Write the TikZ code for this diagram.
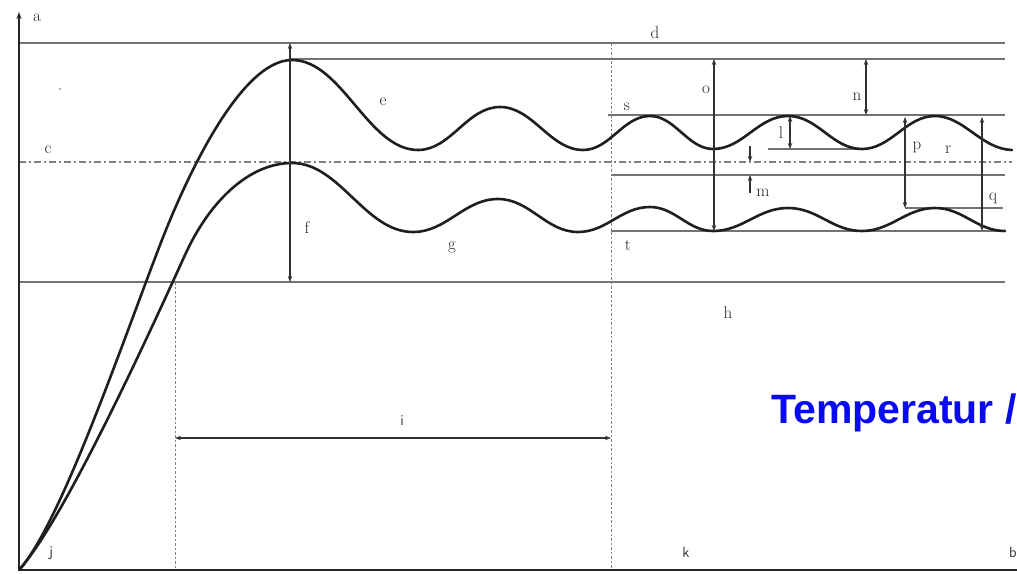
\documentclass[tikz,border=0pt]{standalone}
\usepackage{fontspec}
\newfontfamily\tempfont{Liberation Sans}
\usetikzlibrary{arrows.meta}
\begin{document}
\begin{tikzpicture}[x=1pt,y=-1pt,
  axisline/.style={line width=1.9pt,black!85},
  guide/.style={line width=1.4pt,black!55},
  dotline/.style={line width=1pt,black!50,dash pattern=on 2.5pt off 2pt},
  dashdotline/.style={line width=1.3pt,black!50,dash pattern=on 7pt off 3pt on 2pt off 3pt},
  curve/.style={line width=2.6pt,black!88,line cap=round},
  dimline/.style={line width=1.2pt,black!80,{Stealth[length=6pt,width=4.5pt]}-{Stealth[length=6pt,width=4.5pt]}},
  halfdim/.style={line width=1.2pt,black!80,-{Stealth[length=6pt,width=4.5pt]}},
  lbl/.style={font=\fontsize{17}{19}\selectfont,inner sep=0pt,text=black!85},
  slbl/.style={font=\sffamily\fontsize{15}{18}\selectfont,inner sep=0pt,text=black!80},
  ]
\useasboundingbox (0,0) rectangle (1017,573);
\fill[white] (0,0) rectangle (1017,573);

% coordinates
\coordinate (O) at (19,570);
\coordinate (Ytop) at (19,12);
\coordinate (Xend) at (1017,570);

% guide lines
\draw[guide] (19,43) coordinate (dL) -- (1005,43) coordinate (dR);
\draw[guide] (290,59) coordinate (pkL) -- (1005,59) coordinate (pkR);
\draw[guide] (608,115) coordinate (sL) -- (1005,115) coordinate (sR);
\draw[guide] (768,149) coordinate (lL) -- (862,149) coordinate (lR);
\draw[dashdotline] (19,162) coordinate (cL) -- (1012,162) coordinate (cR);
\draw[guide] (611,175) coordinate (mL) -- (1005,175) coordinate (mR);
\draw[guide] (905,208) coordinate (qL) -- (1003,208) coordinate (qR);
\draw[guide] (611,231) coordinate (tL) -- (1005,231) coordinate (tR);
\draw[guide] (19,282) coordinate (hL) -- (1005,282) coordinate (hR);

% dotted verticals
\draw[dotline] (611,43) coordinate (v2t) -- (611,570) coordinate (v2b);
\draw[dotline] (175,282) coordinate (v1t) -- (175,570) coordinate (v1b);

% axes
\draw[axisline,-{Stealth[length=7pt,width=5pt]}] (O) -- (Ytop);
\draw[axisline] (O) -- (Xend);

% upper curve
\draw[curve] (O) .. controls (60,525) and (120,349) .. (160,245)
  .. controls (185,180) and (240,60) .. (292,60)
  .. controls (342,60) and (368,150) .. (418,150)
  .. controls (451,150) and (467,107) .. (500,107)
  .. controls (533,107) and (550,150) .. (583,150)
  .. controls (610,150) and (623,116) .. (650,116)
  .. controls (675,116) and (688,149) .. (713,149)
  .. controls (743,149) and (758,116) .. (788,116)
  .. controls (818,116) and (832,149) .. (862,149)
  .. controls (891,149) and (906,116) .. (935,116)
  .. controls (964,116) and (981,149) .. (1012,150);

% lower curve
\draw[curve] (O) .. controls (62,522) and (140,354) .. (185,255)
  .. controls (210,200) and (250,163) .. (292,163)
  .. controls (340,163) and (365,232) .. (413,232)
  .. controls (447,232) and (464,199) .. (498,199)
  .. controls (530,199) and (546,232) .. (578,232)
  .. controls (607,232) and (621,207) .. (650,207)
  .. controls (675,207) and (688,231) .. (713,231)
  .. controls (743,231) and (758,208) .. (788,208)
  .. controls (818,208) and (832,231) .. (862,231)
  .. controls (891,231) and (906,208) .. (935,208)
  .. controls (963,208) and (977,231) .. (1005,231);

% dimension arrows
\coordinate (fT) at (290,43); \coordinate (fB) at (290,282);
\draw[dimline] (fT) -- (fB);
\coordinate (oT) at (714,59); \coordinate (oB) at (714,231);
\draw[dimline] (oT) -- (oB);
\coordinate (nT) at (866,59); \coordinate (nB) at (866,115);
\draw[dimline] (nT) -- (nB);
\coordinate (lT) at (790,116); \coordinate (lB) at (790,149);
\draw[dimline] (lT) -- (lB);
\coordinate (m1s) at (750,146); \coordinate (m1e) at (750,162);
\coordinate (m2s) at (750,193); \coordinate (m2e) at (750,175);
\draw[halfdim] (m1s) -- (m1e);
\draw[halfdim] (m2s) -- (m2e);
\coordinate (pT) at (905,117); \coordinate (pB) at (905,208);
\draw[dimline] (pT) -- (pB);
\coordinate (qT) at (982,117); \coordinate (qB) at (982,231);
\draw[dimline] (qT) -- (qB);
\coordinate (iL) at (175,438); \coordinate (iR) at (611,438);
\draw[dimline] (iL) -- (iR);

% tiny dot
\fill[black!60] (60,89) circle (0.9pt);

% labels
\node[lbl] (la) at (37,18) {a};
\node[lbl] (ld) at (655,33) {d};
\node[lbl] (lc) at (48,150) {c};
\node[lbl] (le) at (383,102) {e};
\node[lbl] (lf) at (307,228) {f};
\node[lbl] (lg) at (452,247) {g};
\node[lbl] (lh) at (728,313) {h};
\node[slbl] (li) at (402,421) {i};
\node[slbl] (lj) at (51,553) {j};
\node[slbl] (lk) at (686,552) {k};
\node[slbl] (lb) at (1013,552) {b};
\node[lbl] (ls) at (627,107) {s};
\node[lbl] (lt) at (628,245) {t};
\node[lbl] (lo) at (706,90) {o};
\node[lbl] (ln) at (857,97) {n};
\node[lbl] (ll) at (781,133) {l};
\node[lbl] (lm) at (763,193) {m};
\node[lbl] (lp) at (917,147) {p};
\node[lbl] (lr) at (948,150) {r};
\node[lbl] (lq) at (993,198) {q};

\node[anchor=base west,inner sep=0pt,text={rgb,255:red,10;green,10;blue,240},
  font=\tempfont\bfseries\fontsize{41}{46}\selectfont]
  (temp) at (771,423) {Temperatur /};
\end{tikzpicture}
\end{document}
